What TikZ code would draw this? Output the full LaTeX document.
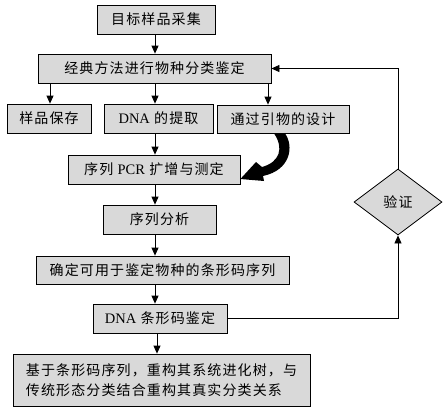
\documentclass[tikz,border=0pt]{standalone}
\usepackage{fontspec}
\setmainfont{Liberation Serif}
\newfontfamily\cjk[LetterSpace=8]{Noto Sans CJK SC}
\usetikzlibrary{arrows.meta,shapes.geometric}
\definecolor{boxgray}{HTML}{D9D9D9}
\newcommand{\lat}[1]{{\rmfamily\fontsize{14.5}{17}\selectfont #1}}
\begin{document}
\begin{tikzpicture}[x=1pt,y=-1pt,
  box/.style={draw, fill=boxgray, line width=0.8pt, inner sep=0pt,
    font=\cjk\fontsize{14}{20}\selectfont},
  arr/.style={-{Triangle[width=7pt,length=8pt]}, line width=0.8pt},
  ln/.style={line width=0.8pt}]
\useasboundingbox (0,0) rectangle (448,413);
\node[box, minimum width=118, minimum height=29] (b1) at (156,19.5) {目标样品采集};
\node[box, minimum width=233, minimum height=29] (b2) at (154.5,68.5) {经典方法进行物种分类鉴定};
\node[box, minimum width=84, minimum height=29] (b3) at (49,118.5) {样品保存};
\node[box, minimum width=109, minimum height=29] (b4) at (158.5,118.5) {\lat{DNA} 的提取};
\node[box, minimum width=132, minimum height=28] (b5) at (283,119) {通过引物的设计};
\node[box, minimum width=172, minimum height=29] (b6) at (154,169.5) {序列 \lat{PCR} 扩增与测定};
\node[box, minimum width=113, minimum height=29] (b7) at (159.5,219.5) {序列分析};
\node[box, minimum width=253, minimum height=28] (b8) at (162.5,270) {确定可用于鉴定物种的条形码序列};
\node[box, minimum width=134, minimum height=29] (b9) at (160,318.5) {\lat{DNA} 条形码鉴定};
\node[box, minimum width=297, minimum height=52, align=left] (b10) at (161.5,380)
  {基于条形码序列，重构其系统进化树，与\\传统形态分类结合重构其真实分类关系};
\node[box, diamond, aspect=1.33, minimum width=88, minimum height=66] (d) at (398,202) {验证};
% arrows
\draw[arr] (b1.south -| 155,0) -- (b2.north -| 155,0);
\draw[arr] (b2.south -| 50,0) -- (b3.north -| 50,0);
\draw[arr] (b2.south -| 155,0) -- (b4.north -| 155,0);
\draw[arr] (b2.south -| 268,0) -- (b5.north -| 268,0);
\draw[arr] (b4.south -| 155,0) -- (b6.north -| 155,0);
\draw[arr] (b6.south -| 155,0) -- (b7.north -| 155,0);
\draw[arr] (b7.south -| 155,0) -- (b8.north -| 155,0);
\draw[arr] (b8.south -| 155,0) -- (b9.north -| 155,0);
\draw[arr] (b9.south -| 157,0) -- (b10.north -| 157,0);
\draw[arr] (b9.east) -| (d.south);
\draw[arr] (d.north) |- (b2.east);
% curved black arrow from b5 to b6
\fill (b5.south -| 274,0) .. controls (284,148) and (280,162) .. (262,167)
  -- (256,162) -- (b6.east |- 0,179) -- (264,181) -- (263,176)
  .. controls (291,170) and (294,146) .. (b5.south -| 285,0) -- cycle;
\end{tikzpicture}
\end{document}
